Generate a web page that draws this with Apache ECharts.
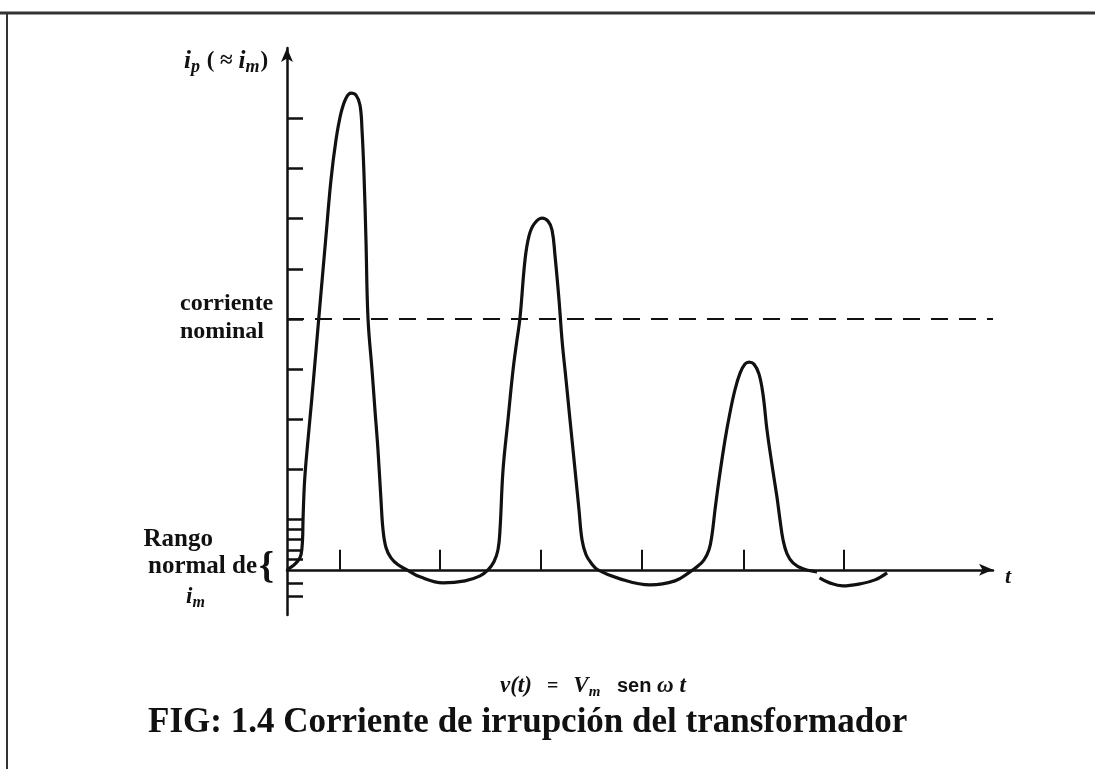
<!DOCTYPE html>
<html>
<head>
<meta charset="utf-8">
<script src="https://cdn.jsdelivr.net/npm/echarts@6/dist/echarts.min.js"></script>
<style>
  html, body { margin: 0; padding: 0; background: #fff; }
  #main { width: 1095px; height: 769px; }
</style>
</head>
<body>
<div id="main"></div>
<script>
// time axis in half-periods (ticks ~ every 100 px), current in relative units
const tTicks = [0.52, 1.51, 2.52, 3.52, 4.53, 5.52];
const iTicks = [-0.52, -0.26, 0.22, 0.4, 0.6, 0.8, 1, 2, 3, 4, 5, 6, 7, 8, 9];
const iNominal = 5;

// inrush current i_p(t), three decaying lobes
const inrush = [
  // first lobe
  [0, 0], [0.059, 0.08], [0.109, 0.18], [0.139, 0.30], [0.154, 0.60], [0.159, 1.00],
  [0.175, 1.79], [0.208, 2.59], [0.245, 3.39], [0.288, 4.38], [0.331, 5.38], [0.383, 6.57],
  [0.436, 7.77], [0.486, 8.57], [0.535, 9.10], [0.585, 9.40], [0.635, 9.50], [0.684, 9.46],
  [0.724, 9.26], [0.744, 8.76], [0.763, 7.91], [0.783, 6.57], [0.803, 5.02], [0.843, 3.98],
  [0.872, 3.19], [0.902, 2.39], [0.932, 1.39], [0.952, 0.80], [0.982, 0.44], [1.031, 0.24],
  [1.101, 0.10], [1.190, 0],
  // first negative swing + second lobe
  [1.319, -0.14], [1.547, -0.26], [1.765, -0.22], [1.914, -0.12], [1.993, 0], [2.052, 0.16],
  [2.092, 0.40], [2.112, 0.80], [2.142, 1.99], [2.191, 2.99], [2.241, 3.98], [2.280, 4.58],
  [2.310, 5.02], [2.360, 6.18], [2.399, 6.65], [2.449, 6.89], [2.528, 7.01], [2.588, 6.95],
  [2.628, 6.77], [2.657, 6.27], [2.697, 5.38], [2.727, 4.58], [2.767, 3.78], [2.806, 2.99],
  [2.856, 1.99], [2.895, 1.20], [2.925, 0.60], [2.965, 0.30], [3.014, 0.14], [3.083, 0],
  // second negative swing + third lobe
  [3.302, -0.18], [3.599, -0.30], [3.847, -0.22], [3.996, -0.04], [4.065, 0.06], [4.135, 0.20],
  [4.184, 0.40], [4.214, 0.70], [4.244, 1.20], [4.283, 1.79], [4.343, 2.59], [4.392, 3.13],
  [4.442, 3.59], [4.492, 3.92], [4.541, 4.10], [4.581, 4.14], [4.630, 4.10], [4.680, 3.90],
  [4.720, 3.49], [4.759, 2.79], [4.809, 2.09], [4.858, 1.45], [4.888, 1.00], [4.918, 0.60],
  [4.958, 0.32], [5.017, 0.14], [5.116, 0.02], [5.255, -0.04]
];
// last small negative swing, drawn apart (gap in the original)
const tail = [[5.28, -0.16], [5.38, -0.26], [5.51, -0.32], [5.68, -0.28], [5.83, -0.20], [5.95, -0.06]];

const chart = echarts.init(document.getElementById('main'));
const ink = '#111';
const serif = 'Liberation Serif';

const option = {
  backgroundColor: '#fff',
  animation: false,
  grid: { left: 287, right: 102, top: 48, bottom: 154 },
  xAxis: {
    type: 'value', min: 0, max: 7,
    axisLine: { onZero: true, symbol: ['none', 'arrow'], symbolSize: [9, 14],
      lineStyle: { color: ink, width: 2.5 } },
    axisTick: { show: true, inside: true, length: 20, customValues: tTicks,
      lineStyle: { color: ink, width: 2 } },
    axisLabel: { show: false },
    splitLine: { show: false }
  },
  yAxis: {
    type: 'value', min: -0.9, max: 10.4,
    axisLine: { show: true, symbol: ['none', 'arrow'], symbolSize: [9, 14],
      lineStyle: { color: ink, width: 2.5 } },
    axisTick: { show: true, inside: true, length: 16, customValues: iTicks,
      lineStyle: { color: ink, width: 2.5 } },
    axisLabel: { show: false },
    splitLine: { show: false }
  },
  series: [
    {
      type: 'line', data: inrush, smooth: 0.4, symbol: 'none',
      lineStyle: { color: ink, width: 3.2 },
      markLine: {
        silent: true, symbol: 'none', label: { show: false },
        lineStyle: { color: ink, width: 2, type: [17, 11] },
        data: [{ yAxis: iNominal }]
      }
    },
    {
      type: 'line', data: tail, smooth: 0.4, symbol: 'none',
      lineStyle: { color: ink, width: 3.2 }
    }
  ],
  graphic: [
    // page frame
    { type: 'line', shape: { x1: 0, y1: 13, x2: 1095, y2: 13 }, style: { stroke: '#333', lineWidth: 3 } },
    { type: 'line', shape: { x1: 7, y1: 13, x2: 7, y2: 769 }, style: { stroke: '#333', lineWidth: 2 } },
    // axis names
    { type: 'text', left: 184, top: 49, style: {
        text: '{i|i}{s|p}{n| ( ≈ }{i|i}{s|m}{n|)}',
        rich: {
          i: { fontFamily: serif, fontStyle: 'italic', fontWeight: 'bold', fontSize: 25, fill: ink },
          s: { fontFamily: serif, fontStyle: 'italic', fontWeight: 'bold', fontSize: 18, fill: ink, padding: [12, 1, 0, 0] },
          n: { fontFamily: serif, fontWeight: 'bold', fontSize: 23, fill: ink }
        } } },
    { type: 'text', left: 1005, top: 566, style: {
        text: 't', fontFamily: serif, fontStyle: 'italic', fontWeight: 'bold', fontSize: 22, fill: ink } },
    // nominal current label
    { type: 'text', left: 180, top: 290, style: {
        text: 'corriente\nnominal', fontFamily: serif, fontWeight: 'bold', fontSize: 24,
        lineHeight: 28, fill: ink } },
    // normal range of i_m
    { type: 'text', right: 1095 - 213, top: 527, style: {
        text: 'Rango', fontFamily: serif, fontWeight: 'bold', fontSize: 25, fill: ink } },
    { type: 'text', right: 1095 - 257, top: 554, style: {
        text: 'normal de', fontFamily: serif, fontWeight: 'bold', fontSize: 25, fill: ink } },
    { type: 'text', left: 259, top: 549, style: {
        text: '{', fontFamily: serif, fontWeight: 'bold', fontSize: 38, fill: ink } },
    { type: 'text', left: 186, top: 586, style: {
        text: '{i|i}{s|m}',
        rich: {
          i: { fontFamily: serif, fontStyle: 'italic', fontWeight: 'bold', fontSize: 23, fill: ink },
          s: { fontFamily: serif, fontStyle: 'italic', fontWeight: 'bold', fontSize: 16, fill: ink, padding: [11, 0, 0, 0] }
        } } },
    // source voltage
    { type: 'text', left: 500, top: 675, style: {
        text: '{v|v(t)}{n|   =   }{v|V}{s|m}{b|   sen }{v|ω t}',
        rich: {
          v: { fontFamily: serif, fontStyle: 'italic', fontWeight: 'bold', fontSize: 23, fill: ink },
          n: { fontFamily: serif, fontWeight: 'bold', fontSize: 20, fill: ink },
          s: { fontFamily: serif, fontStyle: 'italic', fontWeight: 'bold', fontSize: 15, fill: ink, padding: [12, 0, 0, 0] },
          b: { fontFamily: 'Liberation Sans', fontWeight: 'bold', fontSize: 20, fill: ink }
        } } },
    // caption
    { type: 'text', left: 148, top: 705, style: {
        text: 'FIG: 1.4 Corriente de irrupción del transformador',
        fontFamily: serif, fontWeight: 'bold', fontSize: 35, fill: ink } }
  ]
};

chart.setOption(option);
</script>
</body>
</html>
